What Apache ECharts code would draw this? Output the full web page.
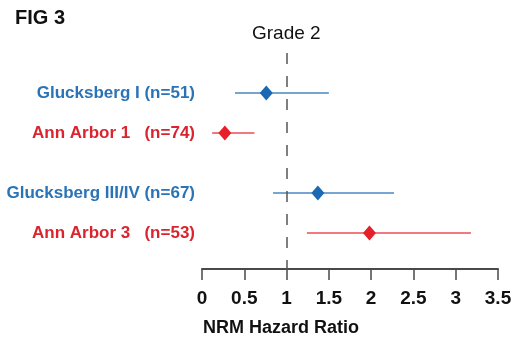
<!DOCTYPE html>
<html>
<head>
<meta charset="utf-8">
<script src="https://cdn.jsdelivr.net/npm/echarts@6/dist/echarts.min.js"></script>
<style>
  html,body{margin:0;padding:0;background:#fff;}
  #main{width:520px;height:343px;}
</style>
</head>
<body>
<div id="main"></div>
<script>
// rows of the forest plot (blank slots leave the gaps between groups)
var slots = ['Glucksberg I (n=51)', '', 'Ann Arbor 1   (n=74)', '', '', 'Glucksberg III/IV (n=67)', '', 'Ann Arbor 3   (n=53)'];
var labels = ['Glucksberg I (n=51)', 'Ann Arbor 1   (n=74)', 'Glucksberg III/IV (n=67)', 'Ann Arbor 3   (n=53)'];
var hr = [0.76, 0.27, 1.37, 1.98];      // hazard ratio
var ciLow = [0.39, 0.12, 0.84, 1.24];   // lower bound
var ciHigh = [1.50, 0.62, 2.27, 3.18];  // upper bound
var refValue = 1;                        // Grade 2
var xTicks = [0, 0.5, 1, 1.5, 2, 2.5, 3, 3.5];

var blue = '#1b69b3', red = '#e61f2a';
var colorOf = function(name){
	return name.indexOf('Glucksberg') === 0 ? blue : red;
}

var ciData = [], pointData = [];
for (var i = 0; i < labels.length; i++) {
	var row = slots.indexOf(labels[i]);
	ciData.push({value: [ciLow[i], ciHigh[i], row], itemStyle: {color: colorOf(labels[i])}});
	pointData.push({value: [hr[i], row], itemStyle: {color: colorOf(labels[i]), opacity: 1}});
}

var myChart = echarts.init(document.getElementById('main'));
var option = {
	animation: false,
	grid: {left: 202, right: 22, top: 53, bottom: 74},
	xAxis: {
		type: 'value',
		position: 'bottom',
		min: xTicks[0],
		max: xTicks[xTicks.length - 1],
		interval: 0.5,
		splitLine: {show: false},
		axisLine: {show: true, onZero: false, lineStyle: {color: '#4a4a4a', width: 2}},
		axisTick: {show: true, length: 11, lineStyle: {color: '#4a4a4a', width: 1.5}},
		axisLabel: {
			margin: 20,
			color: '#111',
			fontFamily: 'Liberation Sans',
			fontWeight: 'bold',
			fontSize: 19
		}
	},
	yAxis: {
		type: 'value',
		inverse: true,
		min: -2,
		max: 8.8,
		interval: 1,
		splitLine: {show: false},
		axisLine: {show: false},
		axisTick: {show: false},
		axisLabel: {
			margin: 7,
			showMaxLabel: false,
			fontFamily: 'Liberation Sans',
			fontWeight: 'bold',
			fontSize: 17,
			formatter: function(v){
				var s = slots[v];
				if (!s) return '';
				return (colorOf(s) === blue ? '{b|' : '{r|') + s + '}';
			},
			rich: {
				b: {color: '#2a73b6', fontFamily: 'Liberation Sans', fontWeight: 'bold', fontSize: 17},
				r: {color: '#d8252e', fontFamily: 'Liberation Sans', fontWeight: 'bold', fontSize: 17}
			}
		}
	},
	series: [
		{
			type: 'custom',
			z: 2,
			renderItem: function(params, api){
				var a = api.coord([api.value(0), api.value(2)]);
				var b = api.coord([api.value(1), api.value(2)]);
				return {
					type: 'line',
					shape: {x1: a[0], y1: a[1], x2: b[0], y2: b[1]},
					style: {stroke: api.visual('color'), lineWidth: 1.3, opacity: 0.8}
				};
			},
			encode: {x: [0, 1], y: 2},
			data: ciData,
			markLine: {
				silent: true,
				symbol: 'none',
				label: {show: false},
				lineStyle: {color: '#555', type: [11, 12], width: 1.5},
				data: [{xAxis: refValue}]
			}
		},
		{
			type: 'scatter',
			z: 3,
			symbol: 'diamond',
			symbolSize: [13, 15],
			data: pointData
		}
	],
	graphic: [
		{type: 'text', left: 15, top: 8, style: {text: 'FIG 3', fill: '#111', font: 'bold 20px "Liberation Sans"'}},
		{type: 'text', left: 252, top: 24, style: {text: 'Grade 2', fill: '#111', font: '19px "Liberation Sans"'}},
		{type: 'text', left: 203, top: 319, style: {text: 'NRM Hazard Ratio', fill: '#111', font: 'bold 18px "Liberation Sans"'}}
	]
};
myChart.setOption(option);
</script>
</body>
</html>
